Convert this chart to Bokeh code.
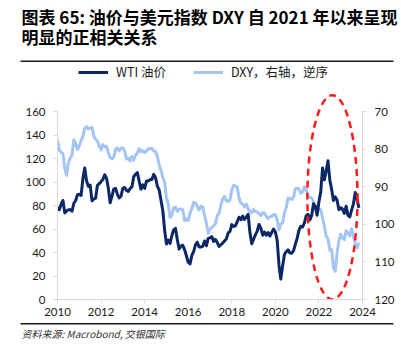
import pandas as pd
from bokeh.plotting import figure
from bokeh.layouts import column
from bokeh.models import (Range1d, LinearAxis, FixedTicker, Label, BoxAnnotation,
                          Legend, LegendItem, ColumnDataSource)
from bokeh.embed import file_html
from bokeh.resources import INLINE

# ---------------- data (monthly, Jan 2010 - Nov 2023) ----------------
wti = [
    78.3, 76.4, 81.2, 84.3, 73.7, 75.3, 76.3, 76.6, 75.2, 81.9, 84.3, 89.2,      # 2010
    89.5, 88.6, 102.9, 112.0, 100.9, 96.3, 97.3, 84.0, 85.5, 86.3, 97.2, 98.6,   # 2011
    100.3, 102.2, 106.2, 103.3, 94.7, 82.3, 87.9, 94.1, 94.5, 89.5, 86.5, 87.9,  # 2012
    94.8, 95.3, 92.9, 92.0, 94.5, 95.8, 104.6, 106.6, 108.0, 100.5, 93.9, 97.6,  # 2013
    94.6, 100.8, 100.8, 102.1, 102.2, 106.5, 103.6, 96.5, 93.2, 84.4, 75.8, 59.3,  # 2014
    47.2, 50.6, 47.8, 54.5, 59.3, 60.5, 50.9, 42.9, 45.5, 46.2, 42.4, 37.2,      # 2015
    31.7, 30.3, 37.5, 40.8, 46.7, 48.8, 44.7, 44.7, 45.2, 49.8, 45.7, 52.0,      # 2016
    52.5, 53.5, 49.3, 51.1, 48.5, 45.2, 46.6, 48.0, 49.8, 51.6, 56.6, 57.9,      # 2017
    63.7, 62.2, 62.7, 66.3, 70.0, 67.9, 71.0, 68.1, 70.2, 72.5, 57.0, 47.5,      # 2018
    51.4, 55.0, 58.2, 63.9, 60.8, 54.7, 57.4, 54.8, 57.0, 54.0, 57.0, 59.9,      # 2019
    57.5, 50.5, 29.2, 17.5, 28.6, 38.3, 40.7, 42.3, 39.6, 39.4, 41.4, 47.0,      # 2020
    52.0, 59.0, 62.3, 61.7, 65.2, 71.4, 72.5, 67.7, 71.6, 81.5, 79.2, 71.7,      # 2021
    83.2, 91.6, 112.0, 101.8, 109.6, 118.0, 101.6, 93.7, 84.3, 87.3, 84.4, 76.4,  # 2022
    78.1, 76.8, 73.3, 79.4, 71.6, 70.3, 76.1, 81.4, 91.0, 85.6, 78.0,            # 2023
]
dxy = [
    77.5, 80.2, 80.9, 81.2, 85.2, 87.0, 83.6, 82.3, 81.6, 77.5, 78.5, 80.1,      # 2010
    79.1, 77.7, 76.7, 74.5, 74.0, 74.7, 74.4, 74.2, 76.6, 77.4, 77.8, 79.2,      # 2011
    80.2, 78.8, 79.4, 79.3, 80.9, 82.2, 82.6, 82.1, 80.0, 79.7, 80.5, 79.7,      # 2012
    79.7, 80.5, 82.6, 82.4, 83.2, 82.0, 83.0, 81.6, 81.0, 79.9, 80.7, 80.4,      # 2013
    80.9, 80.5, 79.9, 79.9, 79.8, 80.5, 80.6, 81.9, 84.2, 85.6, 87.6, 88.8,      # 2014
    93.0, 94.6, 98.2, 97.6, 95.6, 95.4, 96.6, 96.0, 95.9, 96.1, 99.0, 98.6,      # 2015
    99.0, 97.1, 95.8, 94.2, 94.4, 95.2, 96.2, 95.2, 95.4, 97.6, 99.6, 102.3,     # 2016
    101.3, 100.8, 100.4, 99.8, 97.7, 97.1, 94.9, 93.2, 92.6, 93.8, 93.9, 93.5,   # 2017
    90.9, 89.6, 89.8, 90.1, 93.0, 94.4, 94.6, 95.4, 94.6, 95.9, 96.7, 96.9,      # 2018
    96.1, 96.6, 96.7, 97.2, 97.7, 96.9, 97.0, 97.9, 98.5, 98.0, 97.9, 97.4,      # 2019
    97.5, 98.7, 101.5, 99.9, 99.6, 96.9, 95.5, 93.0, 93.2, 93.4, 92.8, 90.6,     # 2020
    90.4, 90.6, 91.8, 91.4, 90.0, 90.9, 92.6, 92.8, 93.0, 93.9, 95.4, 96.2,      # 2021
    95.9, 96.1, 98.4, 100.5, 103.2, 103.9, 106.9, 106.7, 111.5, 112.5, 107.6, 104.3,  # 2022
    102.6, 103.7, 104.1, 101.7, 102.4, 103.1, 101.2, 103.1, 105.2, 106.3, 104.9,      # 2023
]
start_month = "2010-01-01"
x_ticks = [2010, 2012, 2014, 2016, 2018, 2020, 2022, 2024]
left_ticks = [0, 20, 40, 60, 80, 100, 120, 140, 160]
right_ticks = [70, 80, 90, 100, 110, 120]
title_1 = "图表 65: 油价与美元指数 DXY 自 2021 年以来呈现"
title_2 = "明显的正相关关系"
source_text = "资料来源: Macrobond, 交银国际"
label_wti = "WTI 油价"
label_dxy = "DXY，右轴，逆序"
# highlighted window (ellipse): centre year / value, width in years, height in left units
ell_x, ell_y, ell_w, ell_h = 2022.62, 87.0, 2.3, 174.0

dates = pd.date_range(start_month, periods=len(wti), freq="MS")
t = (dates.year + (dates.month - 1) / 12.0).tolist()

# ---------------- layout (absolute pixel rows) ----------------
W, H = 401, 354
TOP_H = 62            # title strip
BOT_Y = 322           # source strip starts here
CJK = "Noto Sans CJK SC"

def strip(height):
    f = figure(width=W, height=height, output_backend="svg", toolbar_location=None,
               x_range=Range1d(0, W), y_range=Range1d(height, 0),
               x_axis_location=None, y_axis_location=None, frame_align=False,
               min_border=0, min_border_left=0, min_border_right=0,
               min_border_top=0, min_border_bottom=0)
    f.grid.visible = False
    f.outline_line_color = None
    f.background_fill_color = "white"
    f.border_fill_color = "white"
    return f

# --- title strip ---
pt = strip(TOP_H)
for txt, py in [(title_1, 15.5), (title_2, 35.5)]:
    pt.add_layout(Label(x=21, y=py, text=txt, text_font=CJK, text_font_size="17px",
                        text_font_style="bold", text_color="#000000", text_baseline="middle"))
pt.add_layout(BoxAnnotation(left=20, right=393, top=60, bottom=62,
                            fill_color="#1a1a1a", fill_alpha=1, line_color=None))

# --- source strip ---
ps = strip(H - BOT_Y)
ps.add_layout(BoxAnnotation(left=20, right=393, top=0.5, bottom=2.0,
                            fill_color="#1a1a1a", fill_alpha=1, line_color=None))
ps.add_layout(Label(x=21, y=11, text=source_text, text_font=CJK,
                    text_font_size="10px", text_font_style="italic", text_color="#333333",
                    text_baseline="middle"))

# --- main chart ---
MH = BOT_Y - TOP_H
FL, FR = 57, 362
FT, FB = TOP_H, 299              # absolute frame top / bottom
X0, X1 = 2010, 2024
ky = 188.0 / 160.0               # px per left unit
Y0 = 0.0
Y1 = (FB - FT) / ky
R0 = 120 - (50 / 160) * Y0       # right axis reversed: 120 at bottom
R1 = 120 - (50 / 160) * Y1

p = figure(width=W, height=MH, output_backend="svg", toolbar_location=None,
           x_range=Range1d(X0, X1), y_range=Range1d(Y0, Y1), frame_align=False,
           min_border_left=FL, min_border_right=W - FR,
           min_border_top=FT - TOP_H, min_border_bottom=BOT_Y - FB)
p.extra_y_ranges = {"dxy": Range1d(start=R0, end=R1)}
p.xgrid.visible = False
p.ygrid.visible = False
p.outline_line_color = None
p.background_fill_color = "white"
p.border_fill_color = "white"

src = ColumnDataSource(dict(t=t, wti=wti, dxy=dxy))
r_dxy = p.line("t", "dxy", source=src, y_range_name="dxy", line_color="#a4c5f3",
               line_width=3, line_join="round")
r_wti = p.line("t", "wti", source=src, line_color="#0b2765", line_width=3,
               line_join="round")

p.ellipse(x=[ell_x], y=[ell_y], width=[ell_w], height=[ell_h], fill_alpha=0,
          line_color="#ff1a1a", line_width=2.5, line_dash="7 5")

def style_axis(ax, standoff):
    ax.axis_line_color = "#d9d9d9"
    ax.major_tick_line_color = "#d9d9d9"
    ax.minor_tick_line_color = None
    ax.major_tick_in = 0
    ax.major_tick_out = 4
    ax.major_label_text_font = "Lato"
    ax.major_label_text_font_size = "11.5px"
    ax.major_label_text_color = "#1a1a1a"
    ax.major_label_standoff = standoff

xa = p.xaxis[0]
xa.ticker = FixedTicker(ticks=x_ticks)
style_axis(xa, 4)
ya = p.yaxis[0]
ya.ticker = FixedTicker(ticks=left_ticks)
ya.bounds = (0, 160)
style_axis(ya, 8)
ra = LinearAxis(y_range_name="dxy", ticker=FixedTicker(ticks=right_ticks), bounds=(70, 120))
style_axis(ra, 8)
p.add_layout(ra, "right")

# legend row centred at absolute y = 74
legend = Legend(items=[LegendItem(label=label_wti, renderers=[r_wti]),
                       LegendItem(label=label_dxy, renderers=[r_dxy])],
                location=(21, (FB - FT) - (74 - FT) - 7), orientation="horizontal",
                border_line_color=None, background_fill_alpha=0, padding=0, margin=0,
                spacing=27, glyph_width=30, glyph_height=14, label_height=14,
                label_standoff=8, label_text_font=CJK,
                label_text_font_size="12.5px", label_text_color="#1a1a1a")
p.add_layout(legend, "center")

layout = column(pt, p, ps, spacing=0)
open("out.html", "w").write(file_html(layout, INLINE))
